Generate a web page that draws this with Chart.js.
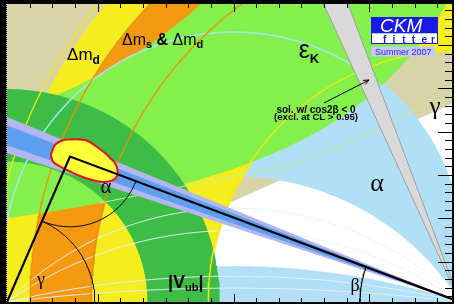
<!DOCTYPE html>
<html>
<head>
<meta charset="utf-8">
<script src="https://cdn.jsdelivr.net/npm/chart.js@4.4.0/dist/chart.umd.min.js"></script>
<style>
  html, body { margin: 0; padding: 0; background: #000; }
  canvas { display: block; }
</style>
</head>
<body>
<canvas id="ckm-chart" width="454" height="304"></canvas>
<script>
// Values, in (rho-bar, eta-bar) units
const apex = [0.139, 0.321];
const gammaRange = [24, 100];              // deg, wedge from (0,0)
const alphaBands = [[79, 122], [162, 180]]; // deg, allowed alpha ranges
const dmdRadii = [0.552, 1.022];           // around (1,0)
const dmsRadii = [0.812, 0.949];           // around (1,0)
const vubRadii = [0.31, 0.47];             // around (0,0)
const epsLower = [0.25, 0.35];             // eta*(1-rho+P) = C  ->  [C, P]
const epsUpper = [0.475, 0.15];
const sin2bOuter = [18.2, 22.2];           // deg, seen from (1,0)
const sin2bInner = [19.1, 21.3];
const cos2bNeg = [65.4, 69.4];
const dmsContours = [0.815, 0.949];
const dmdContours = [0.556, 1.035];
const alphaContours = [135, 145, 167, 173];
const alphaEdge = 80;
const epsLineRho = [0.205, 0.426, 0.647, 0.779, 0.899, 0.987];
const epsLineEta = [0.2185, 0.2627, 0.3068, 0.362, 0.4238, 0.4592];
const fitRho = [0.0965, 0.106, 0.1214, 0.1391, 0.1611, 0.1788, 0.198, 0.2163, 0.2274, 0.2384,
                0.2439, 0.2422, 0.2311, 0.2126, 0.187, 0.1611, 0.1391, 0.117, 0.1022];
const fitEta = [0.3245, 0.3466, 0.3565, 0.3587, 0.3587, 0.3554, 0.3428, 0.3289, 0.3179, 0.3068,
                0.2914, 0.2766, 0.2678, 0.2649, 0.2693, 0.2781, 0.2881, 0.2991, 0.3091];
const angleMarkRadii = [0.155, 0.194, 0.221]; // alpha, gamma, beta

// Tick marks
const rhoTicks = [0.05, 0.10, 0.15, 0.20, 0.25, 0.30, 0.35, 0.40, 0.45, 0.50,
                  0.55, 0.60, 0.65, 0.70, 0.75, 0.80, 0.85, 0.90, 0.95];
const rhoMajorTicks = [0.20, 0.50, 0.80];
const etaMajorTicks = [0.089, 0.1846, 0.2802, 0.3758, 0.4714, 0.567];
const etaMinorStep = 0.01912;

const colors = {
  tan: '#d8d3a9', alpha: '#b0dff6', dmd: '#f6ed1f', dms: '#f59a10', epsK: '#84f04b',
  vub: '#3dbd46', lavender: '#b4b6f2', blue: '#5e9ff2', grey: '#d9d9d9', greyEdge: '#a0a0a0',
  fit: '#ffff3a', fitEdge: '#e8101a', alphaLine: 'rgba(226,242,255,0.95)', cyan: '#a6e6f4',
  dmsLine: '#e8920e', dmdLine: '#f2ea10', epsLine: '#c6f08c'
};

const SANS = '"Liberation Sans", Arial, sans-serif';
const SERIF = '"Liberation Serif", "Times New Roman", serif';

// Geometry helpers
const rad = d => d * Math.PI / 180;

function arc(cx, cy, r, a0, a1, n = 180) {
  const pts = [];
  for (let i = 0; i <= n; i++) {
    const a = rad(a0 + (a1 - a0) * i / n);
    pts.push({ x: cx + r * Math.cos(a), y: cy + r * Math.sin(a) });
  }
  return pts;
}

function halfRing(cx, cy, r0, r1) {
  return arc(cx, cy, r1, 0, 180).concat(arc(cx, cy, r0, 180, 0));
}

function wedgeO(g0, g1, L = 3) {
  return [{ x: 0, y: 0 },
          { x: L * Math.cos(rad(g0)), y: L * Math.sin(rad(g0)) },
          { x: L * Math.cos(rad(g1)), y: L * Math.sin(rad(g1)) }];
}

function rayB(b, L = 3) {
  return [{ x: 1, y: 0 }, { x: 1 - L * Math.cos(rad(b)), y: L * Math.sin(rad(b)) }];
}

function wedgeB(b0, b1) {
  return rayB(b0).concat(rayB(b1).slice(1));
}

// circle of constant alpha through (0,0) and (1,0), walked from (1,0) to (0,0)
function alphaArc(a) {
  if (a >= 180) return [{ x: 1, y: 0 }, { x: 0, y: 0 }];
  const h = 0.5 / Math.tan(rad(a));
  const R = 0.5 / Math.sin(rad(a));
  return arc(0.5, h, R, a - 90, 270 - a, 240);
}

function alphaBand(a0, a1) {
  return alphaArc(a0).concat(alphaArc(a1).reverse());
}

function hyperbola([C, P], rMin, etaMax) {
  const pts = [];
  const rEnd = 1 + P - C / etaMax;
  for (let i = 0; i <= 200; i++) {
    const r = rMin + (rEnd - rMin) * i / 200;
    pts.push({ x: r, y: C / (1 - r + P) });
  }
  return pts;
}

function epsBand() {
  return hyperbola(epsUpper, -0.05, 1.2).concat(hyperbola(epsLower, -0.05, 1.2).reverse());
}

// Dataset builders
function area(points, color, extra = {}) {
  return Object.assign({ data: points, showLine: true, fill: 'shape', backgroundColor: color,
    borderColor: 'transparent', borderWidth: 0, pointRadius: 0, tension: 0 }, extra);
}

function curve(points, color, width) {
  return { data: points, showLine: true, fill: false, borderColor: color, borderWidth: width,
    pointRadius: 0, tension: 0 };
}

const fitPoints = fitRho.map((x, i) => ({ x, y: fitEta[i] }));
fitPoints.push(fitPoints[0]);

const angO = Math.atan2(-apex[1], -apex[0]) * 180 / Math.PI;
const angB = Math.atan2(-apex[1], 1 - apex[0]) * 180 / Math.PI;
const gammaApex = Math.atan2(apex[1], apex[0]) * 180 / Math.PI;
const betaApex = Math.atan2(apex[1], 1 - apex[0]) * 180 / Math.PI;

// back to front
const layers = [
  area(wedgeO(gammaRange[0], gammaRange[1]), colors.tan),
  ...alphaBands.map(b => area(alphaBand(b[0], b[1]), colors.alpha)),
  area(halfRing(1, 0, dmdRadii[0], dmdRadii[1]), colors.dmd),
  area(halfRing(1, 0, dmsRadii[0], dmsRadii[1]), colors.dms),
  area(epsBand(), colors.epsK),
  area(halfRing(0, 0, vubRadii[0], vubRadii[1]), colors.vub),
  ...alphaContours.map(a => curve(alphaArc(a), colors.alphaLine, 1)),
  curve(alphaArc(alphaEdge), colors.cyan, 1.5),
  ...dmsContours.map(r => curve(arc(1, 0, r, 90, 180), colors.dmsLine, 1.3)),
  ...dmdContours.map(r => curve(arc(1, 0, r, 90, 180), colors.dmdLine, 1.3)),
  curve(epsLineRho.map((x, i) => ({ x, y: epsLineEta[i] })), colors.epsLine, 1),
  area(wedgeB(cos2bNeg[0], cos2bNeg[1]), colors.grey),
  curve(rayB(cos2bNeg[0]), colors.greyEdge, 1),
  curve(rayB(cos2bNeg[1]), colors.greyEdge, 1),
  area(wedgeB(sin2bOuter[0], sin2bOuter[1]), colors.lavender),
  area(wedgeB(sin2bInner[0], sin2bInner[1]), colors.blue),
  area(fitPoints, colors.fit, { borderColor: colors.fitEdge, borderWidth: 2, tension: 0.35 }),
  curve([{ x: 0, y: 0 }, { x: apex[0], y: apex[1] }, { x: 1, y: 0 }], '#000', 2.2),
  curve(arc(apex[0], apex[1], angleMarkRadii[0], angO, angB, 60), '#000', 1),
  curve(arc(0, 0, angleMarkRadii[1], 0, gammaApex, 60), '#000', 1),
  curve(arc(1, 0, angleMarkRadii[2], 180 - betaApex, 180, 30), '#000', 1)
];

// Text labels: anchor in data units, parts = [text, font, baseline shift]
const labels = [
  { at: [0.1325, 0.5342], parts: [['Δm', '17px ' + SANS], ['d', 'bold 12px ' + SANS, 4]] },
  { at: [0.2539, 0.5673], parts: [['Δm', '16px ' + SANS], ['s', 'bold 11px ' + SANS, 3],
      [' & ', 'bold 16px ' + SANS], ['Δm', '16px ' + SANS], ['d', 'bold 11px ' + SANS, 3]] },
  { at: [0.6439, 0.5386], parts: [['ε', '25px ' + SANS], ['K', 'bold 13px ' + SANS, 5]] },
  { at: [0.6821, 0.4172], align: 'center', parts: [['sol. w/ cos2β < 0', 'bold 10px ' + SANS]] },
  { at: [0.6821, 0.4018], align: 'center', parts: [['(excl. at CL > 0.95)', 'bold 9.6px ' + SANS]] },
  { at: [0.9448, 0.415], align: 'center', parts: [['γ', '25px ' + SERIF]] },
  { at: [0.8168, 0.245], align: 'center', parts: [['α', '26px ' + SERIF]] },
  { at: [0.2185, 0.2406], align: 'center', parts: [['α', '21px ' + SERIF]] },
  { at: [0.0751, 0.0375], align: 'center', parts: [['γ', '18px ' + SERIF]] },
  { at: [0.7682, 0.0243], align: 'center', parts: [['β', '18px ' + SERIF]] },
  { at: [0.3554, 0.0309], parts: [['|V', 'bold 18px ' + SANS], ['ub', 'bold 11px ' + SANS, 3],
      ['|', 'bold 18px ' + SANS]] }
];
const logoAnchor = [0.8035, 0.6291];
const arrowFrom = [0.6998, 0.4393];
const arrowTo = [0.7991, 0.4901];

function drawRich(ctx, x, y, parts, align) {
  let total = 0;
  parts.forEach(p => { ctx.font = p[1]; total += ctx.measureText(p[0]).width; });
  let cx = align === 'center' ? x - total / 2 : x;
  parts.forEach(p => {
    ctx.font = p[1];
    ctx.fillText(p[0], cx, y + (p[2] || 0));
    cx += ctx.measureText(p[0]).width;
  });
}

function drawLogo(ctx, x, y) {
  const w = 67;
  ctx.fillStyle = '#1a1ae6';
  ctx.fillRect(x, y, w, 16.5);
  ctx.fillStyle = '#fff';
  ctx.fillRect(x, y + 16.5, w, 10.5);
  ctx.strokeStyle = '#1a1ae6';
  ctx.lineWidth = 1;
  ctx.strokeRect(x + 0.5, y + 0.5, w - 1, 26);
  ctx.fillStyle = '#fff';
  ctx.textAlign = 'left';
  ctx.font = 'italic 19px ' + SANS;
  ctx.fillText('CKM', x + 9, y + 15);
  ctx.fillStyle = '#1a1ae6';
  ctx.font = 'bold 10px ' + SANS;
  'fitter'.split('').forEach((c, i) => ctx.fillText(c, x + 12 + i * 9.6, y + 25.5));
  ctx.fillStyle = '#c8c8f6';
  ctx.fillRect(x, y + 29.5, 64, 10);
  ctx.fillStyle = '#2b2bd6';
  ctx.font = '9px ' + SANS;
  ctx.fillText('Summer 2007', x + 4, y + 38);
}

const ckmPlugin = {
  id: 'ckmFrame',
  beforeDraw(chart) {
    const { ctx, chartArea: a } = chart;
    ctx.save();
    ctx.fillStyle = '#000';
    ctx.fillRect(0, 0, chart.width, chart.height);
    ctx.fillStyle = '#fff';
    ctx.fillRect(a.left, a.top, a.right - a.left, a.bottom - a.top);
    ctx.restore();
  },
  afterDatasetsDraw(chart) {
    const { ctx, scales: { x, y } } = chart;
    ctx.save();
    ctx.fillStyle = '#000';
    ctx.textBaseline = 'alphabetic';
    labels.forEach(l => {
      ctx.textAlign = 'left';
      drawRich(ctx, x.getPixelForValue(l.at[0]), y.getPixelForValue(l.at[1]), l.parts, l.align);
    });

    // arrow to the cos2b < 0 solution
    const x0 = x.getPixelForValue(arrowFrom[0]), y0 = y.getPixelForValue(arrowFrom[1]);
    const x1 = x.getPixelForValue(arrowTo[0]), y1 = y.getPixelForValue(arrowTo[1]);
    const ang = Math.atan2(y1 - y0, x1 - x0);
    ctx.strokeStyle = '#000';
    ctx.lineWidth = 1;
    ctx.beginPath();
    ctx.moveTo(x0, y0);
    ctx.lineTo(x1, y1);
    ctx.moveTo(x1 - 6 * Math.cos(ang - 0.4), y1 - 6 * Math.sin(ang - 0.4));
    ctx.lineTo(x1, y1);
    ctx.lineTo(x1 - 6 * Math.cos(ang + 0.4), y1 - 6 * Math.sin(ang + 0.4));
    ctx.stroke();

    drawLogo(ctx, x.getPixelForValue(logoAnchor[0]), y.getPixelForValue(logoAnchor[1]));
    ctx.restore();
  },
  afterDraw(chart) {
    const { ctx, chartArea: a, scales: { x, y } } = chart;
    ctx.save();
    ctx.strokeStyle = '#000';
    ctx.lineWidth = 1;
    ctx.beginPath();
    rhoTicks.forEach(v => {
      const px = Math.round(x.getPixelForValue(v)) + 0.5;
      const len = rhoMajorTicks.includes(v) ? 8 : 4;
      ctx.moveTo(px, a.top); ctx.lineTo(px, a.top + len);
      ctx.moveTo(px, a.bottom); ctx.lineTo(px, a.bottom - len);
    });
    const etaTicks = [];
    for (let k = 4; k >= 1; k--) etaTicks.push([etaMajorTicks[0] - k * etaMinorStep, false]);
    etaMajorTicks.forEach(m => {
      etaTicks.push([m, true]);
      for (let k = 1; k <= 4; k++) etaTicks.push([m + k * etaMinorStep, false]);
    });
    etaTicks.forEach(([v, major]) => {
      if (v <= y.min || v >= y.max) return;
      const py = Math.round(y.getPixelForValue(v)) + 0.5;
      ctx.moveTo(a.right, py); ctx.lineTo(a.right - (major ? 14 : 7), py);
    });
    ctx.stroke();

    // dotted left axis
    ctx.strokeStyle = '#b8b890';
    ctx.setLineDash([1, 1]);
    ctx.beginPath();
    ctx.moveTo(a.left - 0.5, a.top);
    ctx.lineTo(a.left - 0.5, a.bottom);
    ctx.stroke();
    ctx.restore();
  }
};

// Draw chart (first dataset ends up on top, so hand them over reversed)
const ckmChart = new Chart(document.getElementById('ckm-chart'), {
  type: 'scatter',
  data: { datasets: layers.slice().reverse() },
  options: {
    responsive: false,
    animation: false,
    events: [],
    layout: { padding: { left: 7, right: 2, top: 4, bottom: 2 } },
    scales: {
      x: { type: 'linear', min: 0, max: 0.9823, display: false },
      y: { type: 'linear', min: 0, max: 0.6578, display: false }
    },
    plugins: { legend: { display: false }, tooltip: { enabled: false } }
  },
  plugins: [ckmPlugin]
});
</script>
</body>
</html>
